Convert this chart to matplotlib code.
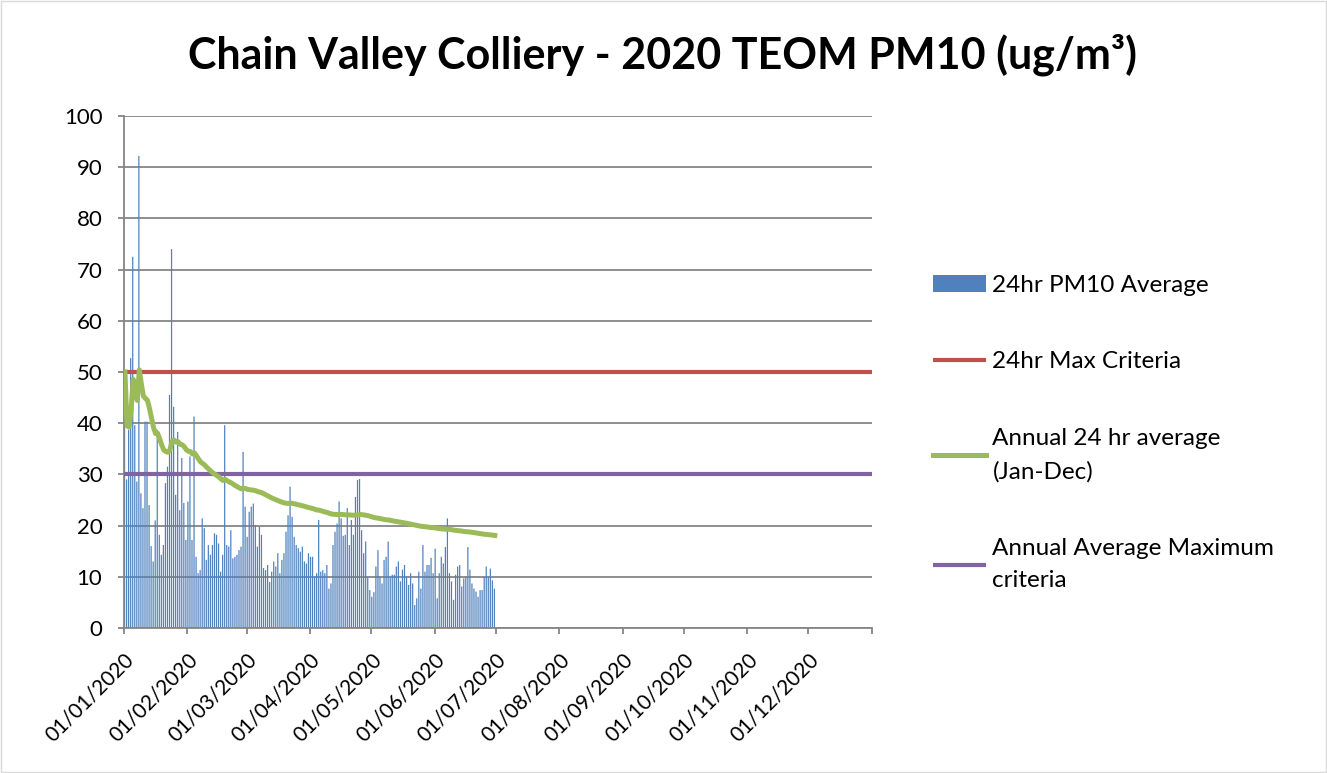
import numpy as np
import pandas as pd
import matplotlib
matplotlib.use("Agg")
import matplotlib.pyplot as plt
import matplotlib.transforms as mtransforms
from matplotlib.patches import Rectangle

plt.rcParams['font.family'] = ['Lato', 'DejaVu Sans']

# daily 24hr PM10 averages, 01/01/2020 - 30/06/2020
jan = [50, 29, 38.7, 52.7, 72.5, 39.6, 28.6, 92.2, 26.3, 23.4, 40.3, 40.3, 24, 16, 13, 21,
       38.7, 18.2, 14.3, 16.2, 28.3, 31.5, 45.5, 74, 43.2, 26, 38.3, 23, 33.2, 24.4, 17.2]
feb = [24.7, 33.5, 17.2, 41.3, 13.9, 10.7, 11.3, 21.4, 19.5, 13.3, 16.2, 14.3, 16.2, 18.5, 18.2,
       16.5, 11, 14.3, 39.6, 16.2, 15.9, 19.1, 13.6, 13.9, 14.3, 15.2, 15.9, 34.4, 23.7]
mar = [17.8, 22.7, 23.7, 24.3, 20.1, 15.9, 19.8, 18.2, 11.7, 11.3, 12.3, 9, 11, 13, 12, 14.6,
       10.7, 13.3, 14.6, 18.8, 22, 27.6, 21.7, 17.8, 16.2, 15.6, 14.9, 15.9, 13, 12.6, 14.6]
apr = [13.9, 13.9, 10, 10.7, 21.1, 11, 11.3, 10.7, 12.3, 7.7, 8.7, 16.2, 18.8, 20.4, 24.7,
       21.4, 18, 18.2, 23.4, 16.2, 21.1, 18.2, 25.6, 28.9, 29.1, 19.1, 14.6, 16.9, 10, 7.4]
may = [6.1, 7, 12, 15.2, 10, 8.7, 13.3, 13.9, 16.9, 10, 10.4, 10.4, 12, 13, 9.1, 11.4, 12.3,
       10, 8.4, 10.7, 8.7, 4.5, 5.8, 11, 7.7, 16.2, 11, 12.3, 12.3, 13.7, 10.7]
jun = [15.5, 5.8, 10.7, 13.9, 12.6, 15.8, 21.4, 10.7, 9.1, 5.5, 10.4, 12, 12.3, 8.1, 9.7,
       10, 15.8, 11.4, 8.7, 7.7, 7.1, 6.1, 7.4, 7.4, 10, 12, 10, 11.6, 9.3, 7.7]

pm10 = np.array(jan + feb + mar + apr + may + jun)
dates = pd.date_range('2020-01-01', periods=len(pm10), freq='D')

max_criteria = 50
annual_criteria = 30

# annual average to date
running_avg = np.cumsum(pm10) / np.arange(1, len(pm10) + 1)

fig = plt.figure(figsize=(13.27, 7.73), dpi=100)
ax = fig.add_axes([0.0934, 0.1876, 0.657 - 0.0934, 0.85 - 0.1876])

start = pd.Timestamp('2020-01-01')
end = pd.Timestamp('2021-01-01')

bars = ax.bar(dates, pm10, width=0.6, align='edge', color='#4F81BD', linewidth=0,
              label='24hr PM10 Average', zorder=2)
for b in bars:
    b.set_snap(False)
red, = ax.plot([start, end], [max_criteria, max_criteria], color='#C0504D', lw=3,
               label='24hr Max Criteria', zorder=3, solid_capstyle='butt')
green, = ax.plot(dates + pd.Timedelta(hours=12), running_avg, color='#9BBB59', lw=3.6,
                 label='Annual 24 hr average\n(Jan-Dec)', zorder=4)
purple, = ax.plot([start, end], [annual_criteria, annual_criteria], color='#8064A2', lw=3,
                  label='Annual Average Maximum\ncriteria', zorder=3, solid_capstyle='butt')

ax.set_xlim(start, end)
ax.set_ylim(0, 100)
ax.set_yticks(range(0, 101, 10))
ax.yaxis.grid(True, color='#868686', lw=1.3, zorder=0)
ax.set_axisbelow(True)

month_ticks = pd.date_range('2020-01-01', '2020-12-01', freq='MS')
ax.set_xticks(list(month_ticks) + [end])
ax.set_xticklabels([d.strftime('%d/%m/%Y') for d in month_ticks] + [''])
shift = mtransforms.ScaledTranslation(17 / 100, 0, fig.dpi_scale_trans)
for lab in ax.get_xticklabels():
    lab.set_rotation(45)
    lab.set_ha('right')
    lab.set_va('top')
    lab.set_rotation_mode('anchor')
    lab.set_transform(lab.get_transform() + shift)

ax.tick_params(axis='x', length=4.5, width=1.3, color='#868686', labelsize=15, pad=11)
ax.tick_params(axis='y', length=4.5, width=1.3, color='#868686', labelsize=16, pad=11)

for side in ['top', 'right']:
    ax.spines[side].set_visible(False)
for side in ['left', 'bottom']:
    ax.spines[side].set_color('#868686')
    ax.spines[side].set_linewidth(1.3)

fig.text(0.499, 0.929, 'Chain Valley Colliery - 2020 TEOM PM10 (ug/m³)',
         ha='center', va='center', fontsize=31, fontweight='bold')

leg = fig.legend([bars, red, green, purple],
                 ['24hr PM10 Average', '24hr Max Criteria',
                  'Annual 24 hr average\n(Jan-Dec)', 'Annual Average Maximum\ncriteria'],
                 loc='center left', bbox_to_anchor=(0.703, 0.440), frameon=False,
                 fontsize=17.5, labelspacing=2.3, handlelength=2.2, handleheight=0.7,
                 handletextpad=0.25, borderpad=0, borderaxespad=0)
for t in leg.get_texts():
    t.set_linespacing(1.65)

fig.patches.append(Rectangle((0.001, 0.001), 0.998, 0.998, transform=fig.transFigure,
                             fill=False, edgecolor='#d9d9d9', lw=1))

fig.savefig('out.png', dpi=100)
